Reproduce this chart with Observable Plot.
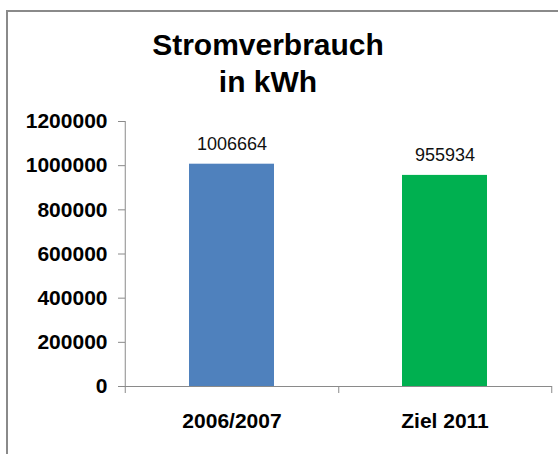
<!DOCTYPE html>
<html>
<head>
<meta charset="utf-8">
<script src="https://cdn.jsdelivr.net/npm/d3@7"></script>
<script src="https://cdn.jsdelivr.net/npm/@observablehq/plot@0.6"></script>
<style>
  html, body { margin: 0; padding: 0; background: #fff; overflow: hidden; }
  #wrap { position: relative; width: 558px; height: 454px; font-family: "Liberation Sans", Arial, sans-serif; }
  #border { position: absolute; left: 6px; top: 10px; width: 600px; height: 500px; border-left: 2px solid #8a8a8a; border-top: 2px solid #8a8a8a; box-sizing: border-box; }
  #title { position: relative; height: 100px; }
  #title div { position: absolute; left: 68px; top: 26px; width: 400px; text-align: center; font-size: 30px; font-weight: bold; line-height: 37px; color: #000; }
  #chart { position: relative; }
</style>
</head>
<body>
<div id="wrap">
  <div id="border"></div>
  <div id="title"><div>Stromverbrauch<br>in kWh</div></div>
  <div id="chart"></div>
</div>
<script>
const categories = ["2006/2007", "Ziel 2011"];
const values = [1006664, 955934];
const barColors = ["#4F81BD", "#00B050"];
const yTicks = [0, 200000, 400000, 600000, 800000, 1000000, 1200000];

const data = categories.map((c, i) => ({category: c, value: values[i], color: barColors[i]}));

const width = 558, height = 354;
const marginLeft = 125, marginRight = 6, marginTop = 21, marginBottom = 68;
const step = (width - marginLeft - marginRight) / categories.length;
const axisColor = "#8a8a8a";
const yMax = yTicks[yTicks.length - 1];

const chart = Plot.plot({
  width, height, marginLeft, marginRight, marginTop, marginBottom,
  style: {fontFamily: "'Liberation Sans', Arial, sans-serif", background: "transparent", overflow: "visible"},
  x: {type: "band", domain: categories, paddingInner: 0.6, paddingOuter: 0.3, label: null, axis: null},
  y: {domain: [0, yMax], label: null, axis: null},
  marks: [
    Plot.barY(data, {x: "category", y: "value", fill: "color"}),
    Plot.ruleY([0], {stroke: axisColor, strokeWidth: 1}),
    Plot.ruleX([categories[0]], {x: d => d, y1: 0, y2: yMax, dx: -step / 2, stroke: axisColor, strokeWidth: 1}),
    Plot.axisY({ticks: yTicks, tickFormat: d => String(d), tickSize: 7, tickPadding: 11, stroke: axisColor, fill: "#000", fontSize: 21, fontWeight: "bold", label: null}),
    Plot.axisX({tickSize: 7, dx: step / 2, tickFormat: () => "", stroke: axisColor, label: null}),
    Plot.axisX({ticks: [categories[0]], tickSize: 7, dx: -step / 2, tickFormat: () => "", stroke: axisColor, label: null}),
    Plot.axisX({tickSize: 0, tickPadding: 27, fill: "#000", fontSize: 21, fontWeight: "bold", label: null}),
    Plot.text(data, {x: "category", y: "value", text: d => String(d.value), dy: -14, lineAnchor: "bottom", fontSize: 18, fill: "#111"})
  ]
});
document.getElementById("chart").appendChild(chart);
</script>
</body>
</html>
